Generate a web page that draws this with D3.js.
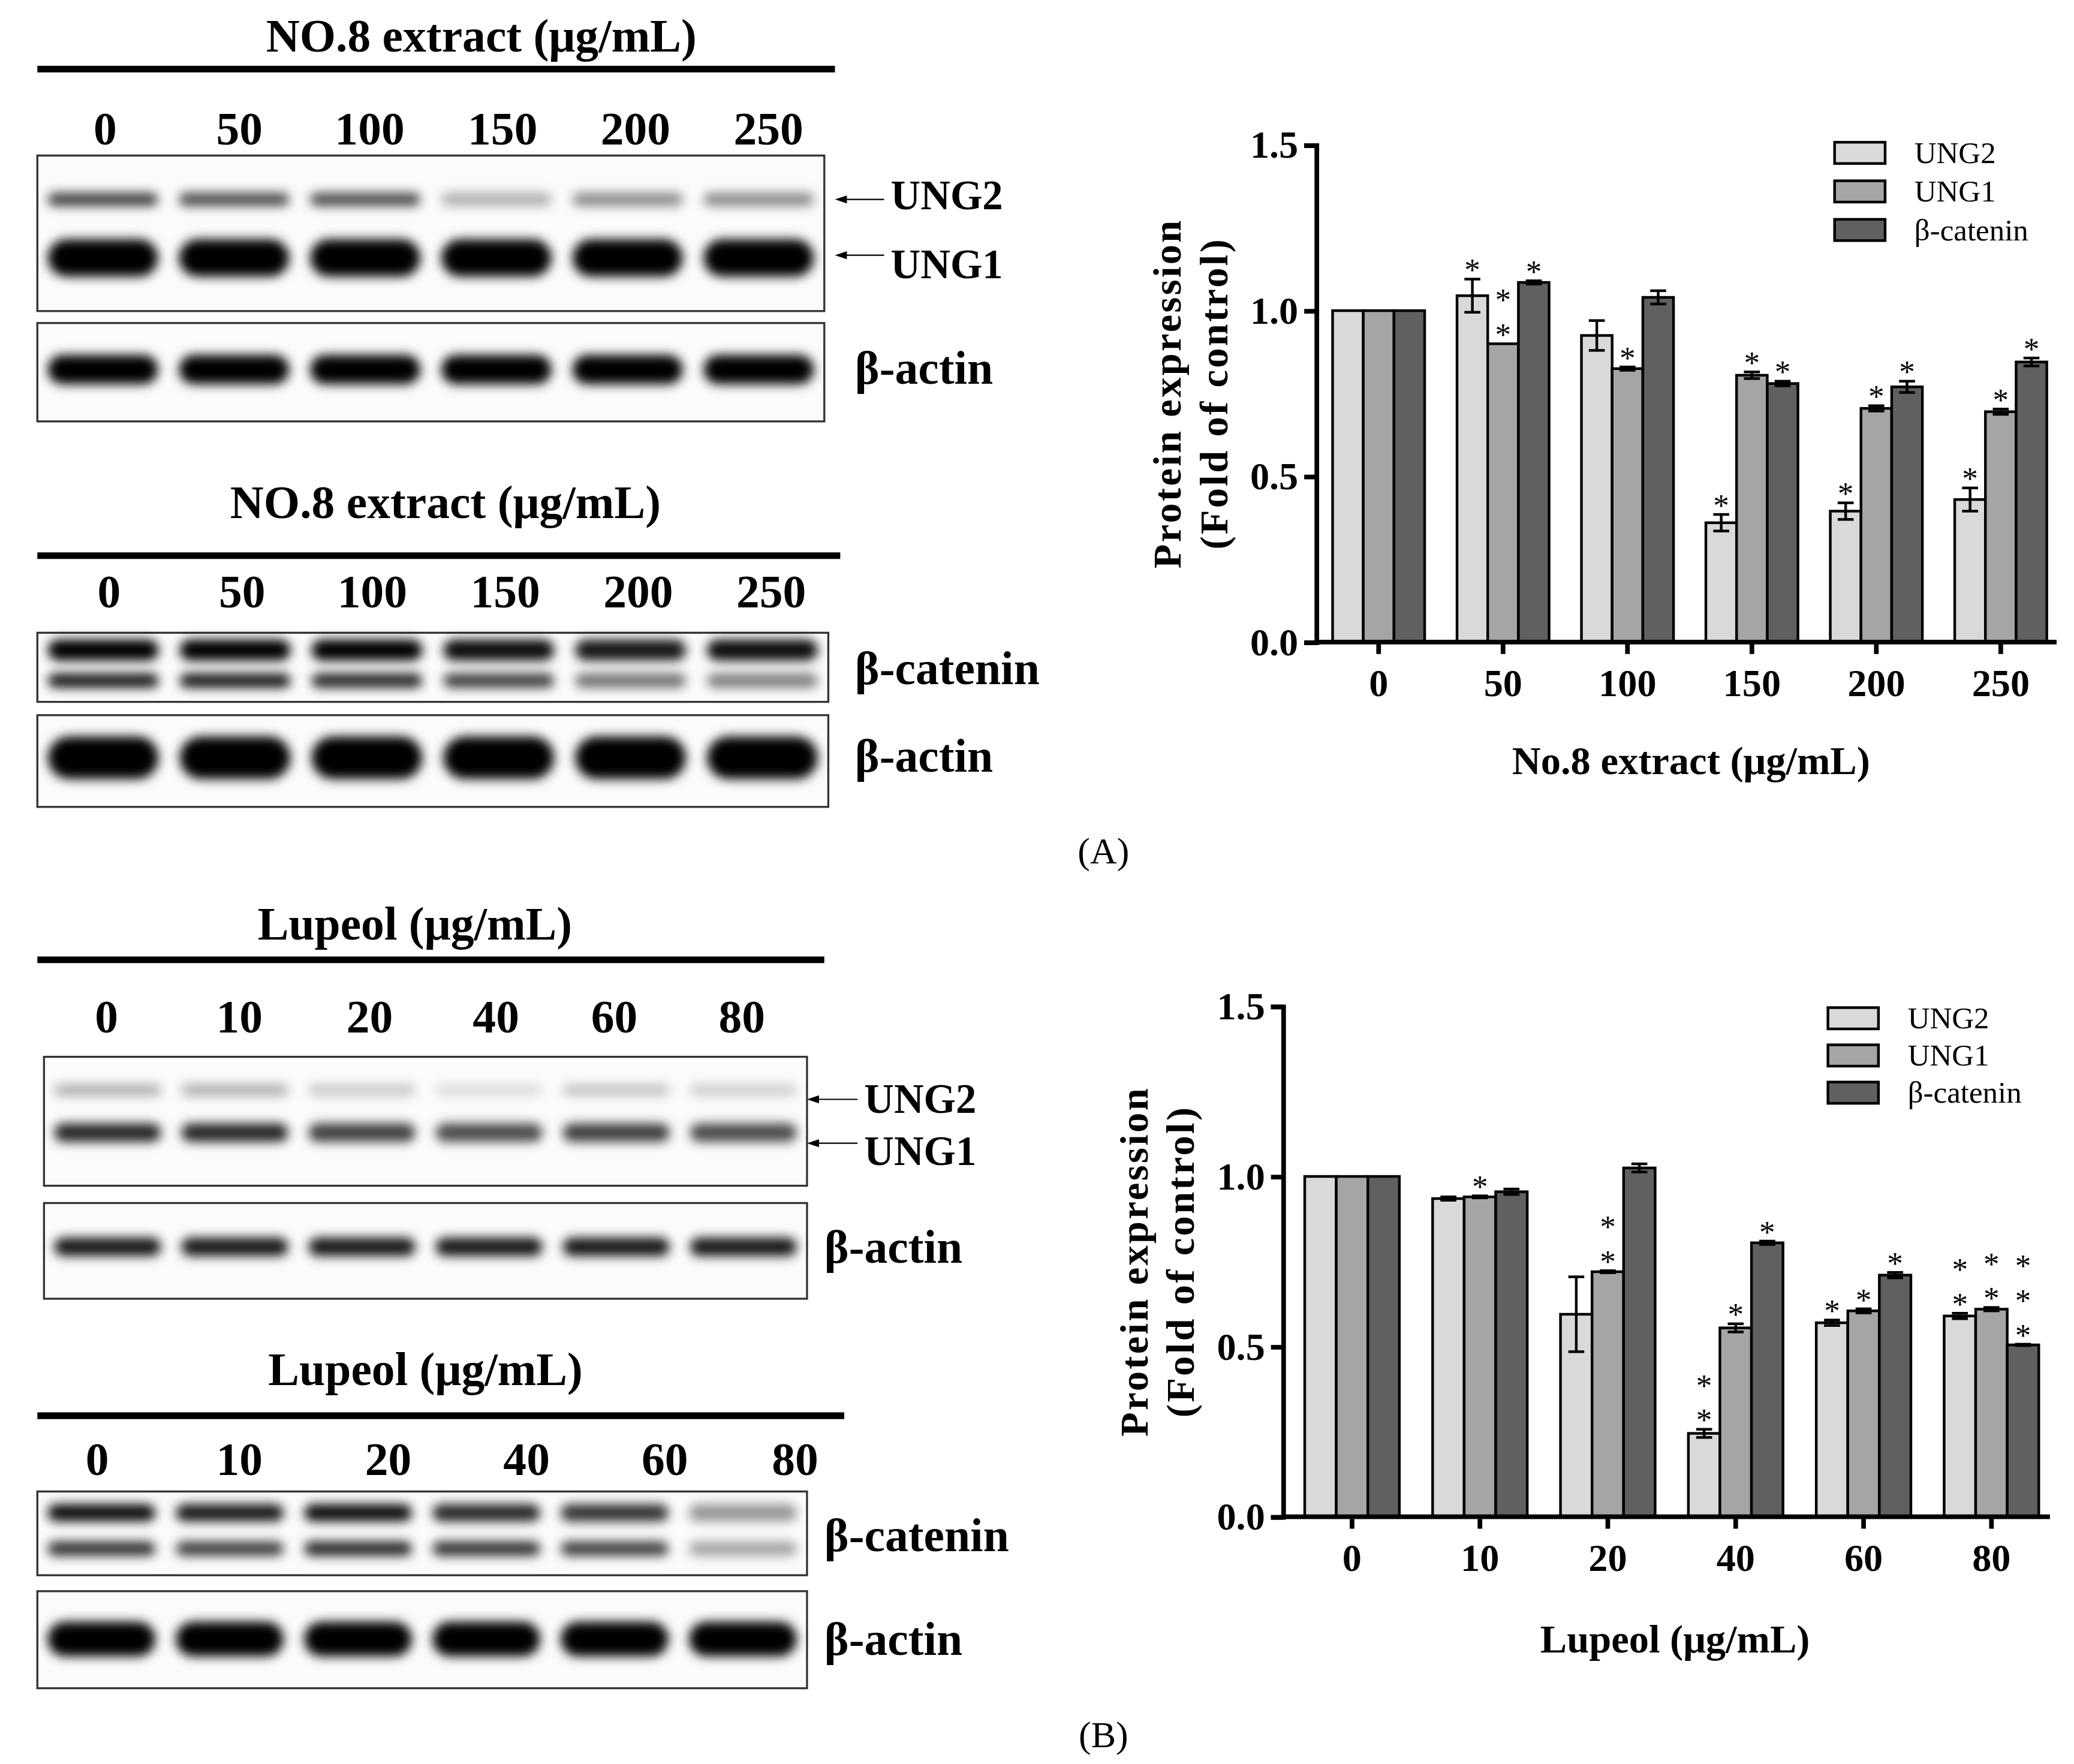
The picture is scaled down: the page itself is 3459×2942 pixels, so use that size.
<!DOCTYPE html>
<html><head><meta charset="utf-8">
<script src="https://cdn.jsdelivr.net/npm/d3@7"></script>
<style>body{margin:0;background:#fff}</style></head>
<body><script>
// ---------- data ----------
const seriesNames = ["UNG2","UNG1","β-catenin"];
const colors = ["#d9d9d9","#a5a5a7","#606060"];
const catsA = ["0","50","100","150","200","250"];
const ung2A = [1,1.045,0.925,0.36,0.395,0.43];
const ung2AErr = [0,0.05,0.045,0.025,0.025,0.035];
const ung1A = [1,0.90,0.825,0.805,0.705,0.695];
const ung1AErr = [0,0,0.005,0.01,0.008,0.008];
const bcatA = [1,1.085,1.04,0.78,0.77,0.845];
const bcatAErr = [0,0.005,0.02,0.007,0.017,0.012];
const starsA = [[0,0,0],[1,2,1],[0,1,0],[1,1,1],[1,1,1],[1,1,1]];
const catsB = ["0","10","20","40","60","80"];
const ung2B = [1,0.935,0.595,0.245,0.57,0.59];
const ung2BErr = [0,0.005,0.11,0.012,0.008,0.008];
const ung1B = [1,0.94,0.72,0.555,0.605,0.61];
const ung1BErr = [0,0.003,0.003,0.012,0.006,0.005];
const bcatB = [1,0.955,1.025,0.805,0.71,0.505];
const bcatBErr = [0,0.008,0.012,0.005,0.008,0.002];
const starsB = [[0,0,0],[0,1,0],[0,2,0],[2,1,1],[1,1,1],[2,2,3]];
const yTicks = [0,0.5,1.0,1.5];
// blot band intensities per lane
const bandA_UNG2 = [0.75,0.7,0.7,0.3,0.45,0.45];
const bandA_UNG1 = [1,1,1,1,1,1];
const bandA_act = [1,1,1,1,1,1];
const bandA_cat1 = [1,1,1,0.95,0.9,0.95];
const bandA_cat2 = [0.9,0.9,0.85,0.75,0.55,0.5];
const bandA_act2 = [1,1,1,1,1,1];
const bandB_UNG2 = [0.3,0.3,0.2,0.12,0.22,0.18];
const bandB_UNG1 = [0.85,0.85,0.75,0.7,0.75,0.7];
const bandB_act = [0.9,0.9,0.9,0.9,0.9,0.9];
const bandB_cat1 = [0.95,0.9,0.95,0.85,0.8,0.4];
const bandB_cat2 = [0.8,0.75,0.85,0.8,0.75,0.35];
const bandB_act2 = [1,1,1,1,1,1];

const W=1560,H=1327;
const svg = d3.select("body").append("svg").attr("width",3459).attr("height",2942)
  .attr("viewBox",`0 0 ${W} ${H}`);
const defs = svg.append("defs");
defs.append("filter").attr("id","blur").attr("x","-20%").attr("y","-100%").attr("width","140%").attr("height","300%")
  .append("feGaussianBlur").attr("stdDeviation",4);
const serif = "'Liberation Serif','DejaVu Serif',serif";

function txt(x,y,s,size,opts={}){
  return svg.append("text").attr("x",x).attr("y",y).text(s)
    .attr("font-family",serif).attr("font-size",size)
    .attr("font-weight",opts.bold===false?"normal":"bold")
    .attr("text-anchor",opts.anchor||"middle").attr("dominant-baseline","central");
}

// ---------- blots ----------
function header(title,tx,ty,lineY,x0,x1,lanes,laneX,laneY){
  txt(tx,ty,title,35);
  svg.append("line").attr("x1",x0).attr("x2",x1).attr("y1",lineY).attr("y2",lineY).attr("stroke","#000").attr("stroke-width",5);
  lanes.forEach((l,i)=>txt(laneX[i],laneY,l,35));
}
function blot(x0,x1,y0,y1,rows){
  const g=svg.append("g");
  g.append("rect").attr("x",x0).attr("y",y0).attr("width",x1-x0).attr("height",y1-y0).attr("fill","#fbfbfb").attr("stroke","#333").attr("stroke-width",1.5);
  const lw=(x1-x0)/6;
  rows.forEach(r=>{
    g.append("g").attr("filter","url(#blur)").selectAll("rect").data(r.vals).join("rect")
      .attr("x",(d,i)=>x0+i*lw+lw*0.08).attr("width",lw*0.84)
      .attr("y",r.y-r.h/2).attr("height",r.h).attr("rx",r.h/2)
      .attr("fill","#000").attr("opacity",d=>d);
  });
}
function arrowLabel(x0,x1,y,ly,label){
  svg.append("line").attr("x1",x0+8).attr("x2",x1).attr("y1",y).attr("y2",y).attr("stroke","#000").attr("stroke-width",1);
  svg.append("path").attr("d",`M${x0},${y} l9,-3 l0,6 z`).attr("fill","#000");
  txt(x1+5,ly,label,31,{anchor:"start"});
}
// A1
header("NO.8 extract (μg/mL)",362,27,52,28,628,catsA,[79,180,278,378,478,578],97);
blot(28,620,117,234,[{y:150,h:10,vals:bandA_UNG2},{y:194,h:28,vals:bandA_UNG1}]);
arrowLabel(628,665,150,147,"UNG2");
arrowLabel(628,665,192,199,"UNG1");
blot(28,620,243,317,[{y:278,h:22,vals:bandA_act}]);
txt(643,277,"β-actin",35,{anchor:"start"});
// A2
header("NO.8 extract (μg/mL)",335,378,418,28,632,catsA,[82,182,280,380,480,580],445);
blot(28,623,476,528,[{y:489,h:16,vals:bandA_cat1},{y:512,h:11,vals:bandA_cat2}]);
txt(643,503,"β-catenin",35,{anchor:"start"});
blot(28,623,538,607,[{y:570,h:32,vals:bandA_act2}]);
txt(643,569,"β-actin",35,{anchor:"start"});
// B1
header("Lupeol (μg/mL)",312,695,722,28,620,catsB,[80,180,278,373,462,558],765);
blot(33,607,795,892,[{y:820,h:9,vals:bandB_UNG2},{y:852,h:14,vals:bandB_UNG1}]);
arrowLabel(607,645,827,827,"UNG2");
arrowLabel(607,645,860,866,"UNG1");
blot(33,607,905,977,[{y:938,h:14,vals:bandB_act}]);
txt(620,938,"β-actin",35,{anchor:"start"});
// B2
header("Lupeol (μg/mL)",320,1030,1065,28,635,catsB,[73,180,292,396,500,598],1098);
blot(28,607,1122,1185,[{y:1138,h:13,vals:bandB_cat1},{y:1165,h:11,vals:bandB_cat2}]);
txt(620,1155,"β-catenin",35,{anchor:"start"});
blot(28,607,1197,1270,[{y:1233,h:26,vals:bandB_act2}]);
txt(620,1233,"β-actin",35,{anchor:"start"});

// ---------- bar charts ----------
function chart(o){
  const y=d3.scaleLinear().domain([0,1.5]).range([o.y0,o.y15]);
  const step=(o.c5-o.c0)/5;
  const x=d3.scaleBand().domain(o.cats).range([o.c0-step/2,o.c5+step/2]).paddingInner(0.26).paddingOuter(0.13);
  const xs=d3.scaleBand().domain([0,1,2]).range([0,x.bandwidth()]);
  const g=svg.append("g");
  o.vals.forEach((vals,s)=>{
    vals.forEach((v,i)=>{
      const bx=x(o.cats[i])+xs(s);
      g.append("rect").attr("x",bx).attr("y",y(v)).attr("width",xs.bandwidth()).attr("height",y(0)-y(v))
        .attr("fill",colors[s]).attr("stroke","#000").attr("stroke-width",2);
      const e=o.errs[s][i], cx=bx+xs.bandwidth()/2;
      if(e>0){
        g.append("line").attr("x1",cx).attr("x2",cx).attr("y1",y(v+e)).attr("y2",y(v-e)).attr("stroke","#000").attr("stroke-width",2);
        [v+e,v-e].forEach(t=>g.append("line").attr("x1",cx-6).attr("x2",cx+6).attr("y1",y(t)).attr("y2",y(t)).attr("stroke","#000").attr("stroke-width",2));
      }
      const n=o.stars[i][s];
      for(let k=0;k<n;k++){
        g.append("text").attr("x",cx).attr("y",y(v+e)-12-k*26).text("*").attr("text-anchor","middle")
          .attr("font-family",serif).attr("font-size",24).attr("dy","0.55em");
      }
    });
  });
  const ya=svg.append("g").attr("transform",`translate(${o.ax},0)`)
    .call(d3.axisLeft(y).tickValues(yTicks).tickFormat(d3.format(".1f")).tickSize(9));
  const xa=svg.append("g").attr("transform",`translate(0,${o.y0})`)
    .call(d3.axisBottom(x).tickSize(9).tickSizeOuter(0));
  [ya,xa].forEach(a=>{a.select(".domain").attr("stroke-width",3.5);a.selectAll(".tick line").attr("stroke-width",3.5);
    a.selectAll("text").attr("font-family",serif).attr("font-size",29).attr("font-weight","bold");});
  xa.select(".domain").attr("d",`M${o.ax},0H${o.xend}`);
  xa.selectAll("text").attr("y",0).attr("dy",0).attr("dominant-baseline","central").attr("transform",`translate(0,${o.tickDy})`);
  ya.selectAll("text").attr("dx","-0.05em");
  txt(o.ax-112,(o.y0+o.y15)/2,"Protein expression",30).attr("transform",`rotate(-90,${o.ax-112},${(o.y0+o.y15)/2})`).attr("letter-spacing",1.5);
  txt(o.ax-77,(o.y0+o.y15)/2,"(Fold of control)",30).attr("transform",`rotate(-90,${o.ax-77},${(o.y0+o.y15)/2})`).attr("letter-spacing",1.5);
  txt(o.xtX,o.xtY,o.xtitle,30);
  seriesNames.forEach((n,s)=>{
    svg.append("rect").attr("x",o.lx).attr("y",o.ly+s*o.lgap-8).attr("width",38).attr("height",16)
      .attr("fill",colors[s]).attr("stroke","#000").attr("stroke-width",2);
    txt(o.lx+60,o.ly+s*o.lgap,n,23,{anchor:"start",bold:false});
  });
  txt(830,o.panelY,o.panel,28,{bold:false});
}
chart({cats:catsA,vals:[ung2A,ung1A,bcatA],errs:[ung2AErr,ung1AErr,bcatAErr],stars:starsA,
  y0:483,y15:109,ax:990,c0:1037,c5:1505,xend:1547,xtitle:"No.8 extract (μg/mL)",xtX:1272,xtY:572,
  lx:1380,ly:115,lgap:29,panel:"(A)",panelY:640,tickDy:31});
chart({cats:catsB,vals:[ung2B,ung1B,bcatB],errs:[ung2BErr,ung1BErr,bcatBErr],stars:starsB,
  y0:1141,y15:757,ax:965,c0:1017,c5:1498,xend:1542,xtitle:"Lupeol (μg/mL)",xtX:1260,xtY:1233,
  lx:1375,ly:766,lgap:28,panel:"(B)",panelY:1305,tickDy:31});
</script></body></html>
